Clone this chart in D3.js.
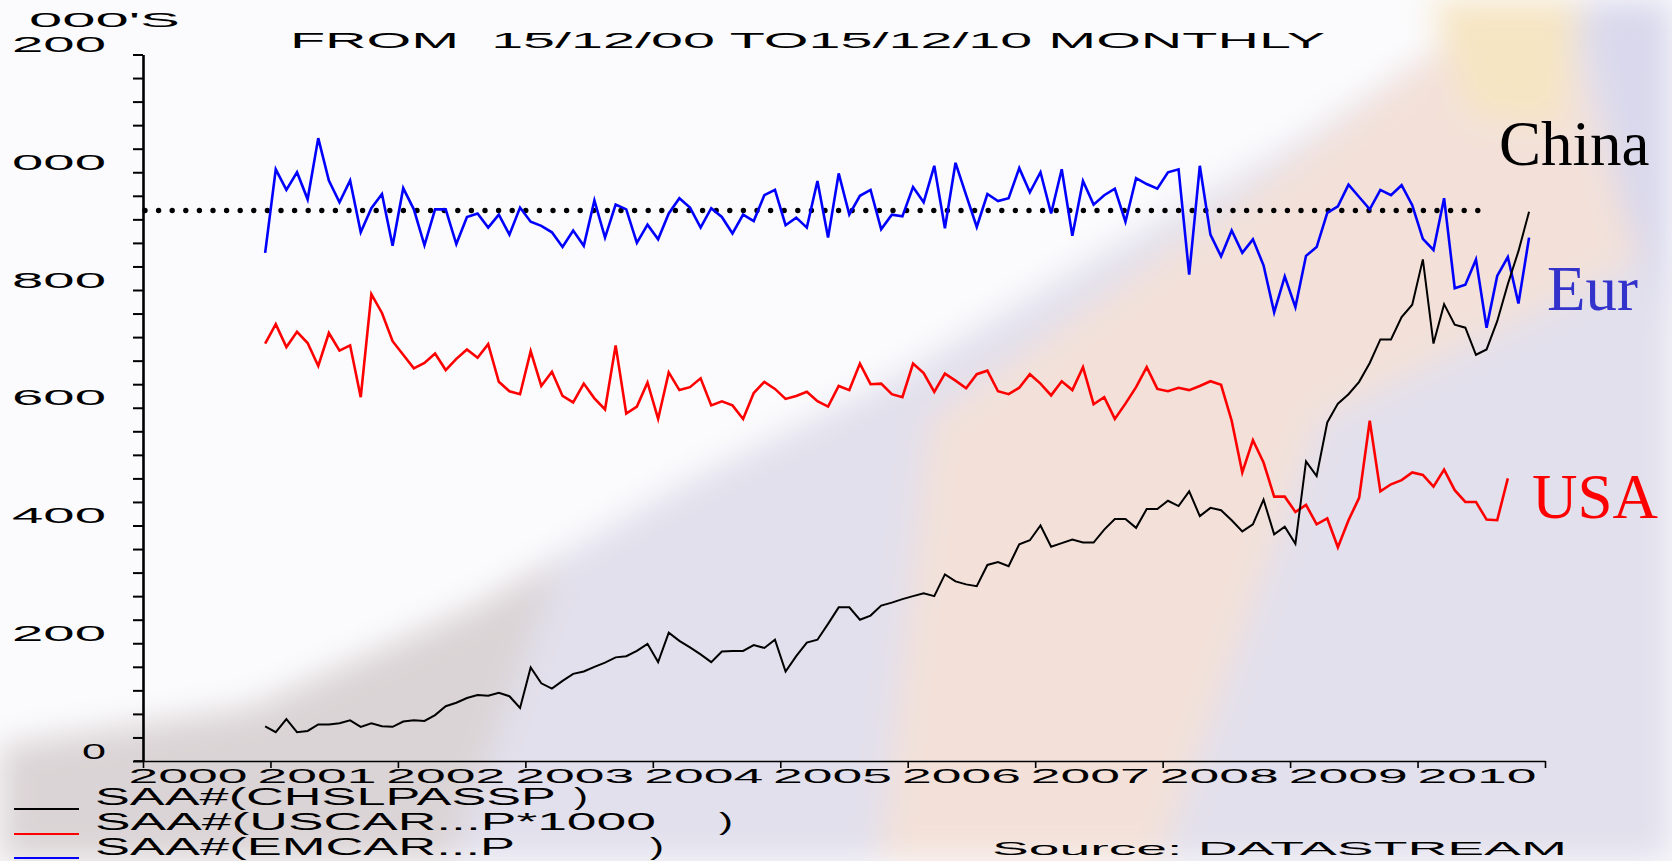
<!DOCTYPE html>
<html>
<head>
<meta charset="utf-8">
<script src="https://cdn.jsdelivr.net/npm/d3@7"></script>
<style>
  html, body { margin: 0; padding: 0; background: #fbfbfd; overflow: hidden; }
  svg { display: block; }
  text { font-family: "Liberation Sans", Arial, sans-serif; fill: #000; white-space: pre; }
  .serif { font-family: "Liberation Serif", "Times New Roman", serif; }
</style>
</head>
<body>
<svg id="chart"></svg>
<script>
// monthly observations, first one is 15/12/00
const firstYear = 2000, firstMonth = 11;

// China passenger car sales (black)
const china = [
  59, 49, 71, 49, 51, 62, 62, 64, 69, 58, 64, 59, 58, 67, 69, 68, 78, 93, 99, 107,
  112, 111, 116, 110, 90, 159, 132, 123, 136, 148, 152, 160, 167, 176, 178, 187, 199, 168, 218, 204,
  193, 181, 168, 186, 187, 187, 197, 192, 206, 152, 178, 201, 206, 233, 261, 261, 240, 247, 264, 269,
  275, 280, 285, 280, 317, 305, 300, 297, 333, 338, 331, 368, 375, 400, 364, 370, 376, 371, 371, 393,
  411, 411, 396, 428, 428, 442, 433, 458, 416, 430, 426, 409, 390, 402, 444, 385, 398, 369, 509, 484,
  575, 607, 623, 644, 676, 716, 716, 754, 775, 852, 709, 776, 741, 736, 690, 699, 747, 810, 866, 933
];

// USA car sales *1000 (red)
const usa = [
  709, 742, 703, 729, 710, 671, 727, 697, 706, 618, 793, 761, 713, 690, 667, 676, 692, 664, 683, 699,
  685, 708, 644, 628, 623, 696, 637, 661, 620, 609, 641, 616, 597, 706, 590, 602, 643, 581, 660, 630,
  635, 650, 604, 611, 604, 581, 625, 644, 632, 615, 620, 627, 611, 602, 637, 630, 675, 640, 641, 623,
  618, 675, 659, 627, 658, 646, 633, 657, 663, 628, 623, 634, 657, 641, 621, 645, 630, 669, 606, 618,
  581, 607, 635, 669, 632, 628, 634, 630, 637, 645, 639, 578, 490, 545, 507, 449, 449, 423, 435, 402,
  412, 363, 409, 447, 578, 458, 470, 477, 490, 486, 466, 495, 460, 440, 440, 410, 409, 480
];

// Europe car sales (blue)
const europe = [
  863, 1005, 970, 1000, 954, 1058, 986, 949, 986, 898, 939, 963, 875, 973, 937, 876, 937, 937, 878, 924,
  930, 906, 928, 894, 940, 916, 909, 898, 873, 901, 875, 952, 889, 945, 937, 880, 911, 886, 930, 956,
  940, 906, 939, 924, 896, 928, 917, 961, 970, 910, 923, 906, 985, 889, 998, 928, 960, 970, 903, 928,
  925, 975, 949, 1011, 905, 1016, 961, 907, 963, 951, 956, 1007, 966, 1000, 930, 1005, 892, 985, 945, 961,
  972, 916, 990, 980, 972, 1000, 1005, 826, 1011, 894, 857, 901, 863, 886, 842, 762, 823, 771, 858, 873,
  931, 942, 979, 958, 937, 970, 961, 978, 944, 887, 868, 956, 803, 809, 852, 736, 824, 856, 777, 889
];

// dotted reference level and its extent in years
const refLevel = 935;
const refSpan = [2000, 2010.5];

const yMinorTicks = d3.range(0, 1201, 40);
const yLabelTicks = [0, 200, 400, 600, 800, 1000, 1200];
const xTickYears = d3.range(2000, 2012);
const xLabelYears = d3.range(2000, 2011);

const seriesNames = ['SAA#(CHSLPASSP', 'SAA#(USCAR...P*1000', 'SAA#(EMCAR...P'];
const seriesColors = ['#000000', '#ff0000', '#0000ff'];
const endLabels = ['China', 'USA', 'Eur'];
const endLabelColors = ['#000000', '#ff0000', '#3333cc'];

const title = 'FROM  15/12/00 TO15/12/10 MONTHLY';
const unitLabel = "000'S";
const sourceNote = 'Source: DATASTREAM';

// faded slide background (decoration)
const bgShapes = [
  { fill: '#e2e0ec', pts: [[0,861],[0,745],[250,707],[470,608],[685,483],[900,375],[1100,255],[1300,140],[1450,40],[1500,0],[1672,0],[1672,861]] },
  { fill: '#f3e1d9', pts: [[1480,0],[1560,0],[1640,260],[1320,420],[1160,861],[880,861],[930,420],[1236,205],[1450,40]] },
  { fill: '#f6e5c3', pts: [[1430,0],[1580,0],[1560,125],[1470,115]] },
  { fill: '#d9d8ec', pts: [[1590,0],[1672,0],[1672,330],[1620,200]] },
  { fill: '#dbd4d6', pts: [[0,861],[0,745],[250,707],[470,608],[560,560],[450,861]] }
];

const width = 1672, height = 861;
const svg = d3.select('#chart').attr('width', width).attr('height', height);

const defs = svg.append('defs');
defs.append('filter').attr('id', 'soft')
  .attr('x', '-20%').attr('y', '-20%').attr('width', '140%').attr('height', '140%')
  .append('feGaussianBlur').attr('stdDeviation', 16);

svg.append('rect').attr('width', width).attr('height', height).attr('fill', '#fbfbfd');
svg.append('g').attr('filter', 'url(#soft)')
  .selectAll('polygon')
  .data(bgShapes)
  .join('polygon')
  .attr('points', d => d.pts.map(p => p.join(',')).join(' '))
  .attr('fill', d => d.fill);

const x = d3.scaleLinear().domain([2000, 2011]).range([143, 1545]);
const y = d3.scaleLinear().domain([0, 1200]).range([761, 54.5]);

const monthPos = i => firstYear + (firstMonth + i + 0.5) / 12;

// y axis with minor ticks
const yAxisG = svg.append('g')
  .attr('transform', `translate(${x(2000)},0)`)
  .call(d3.axisLeft(y).tickValues(yMinorTicks).tickSize(10).tickSizeOuter(0).tickFormat(''));
yAxisG.select('.domain').attr('stroke', '#000').attr('stroke-width', 2.6);
yAxisG.selectAll('.tick line').attr('stroke', '#000').attr('stroke-width', 2);

// y labels (first digit of 1000/1200 cut off as in the original)
const yLabG = svg.append('g')
  .attr('transform', `translate(${x(2000)},0)`)
  .call(d3.axisLeft(y).tickValues(yLabelTicks).tickSize(0).tickPadding(37)
    .tickFormat(d => String(d).slice(-3)));
yLabG.select('.domain').remove();
yLabG.selectAll('text')
  .attr('dy', -3)
  .attr('font-size', 22)
  .attr('font-family', '"Liberation Sans", Arial, sans-serif')
  .attr('fill', '#000')
  .attr('textLength', function () { return 35 * this.textContent.length - 11; })
  .attr('lengthAdjust', 'spacingAndGlyphs');

// x axis, wide labels running into each other like the original print-out
const xAxisG = svg.append('g')
  .attr('transform', `translate(0,${y(0)})`)
  .call(d3.axisBottom(x).tickValues(xTickYears).tickSize(7).tickSizeOuter(0)
    .tickFormat(d => (xLabelYears.includes(d) ? d : '')));
xAxisG.select('.domain').attr('stroke', '#000').attr('stroke-width', 1.6);
xAxisG.selectAll('.tick line').attr('stroke', '#000').attr('stroke-width', 1.6);
xAxisG.selectAll('text')
  .attr('text-anchor', 'start')
  .attr('x', d => -15 + 1.45 * (d - 2000))
  .attr('y', 22)
  .attr('dy', 0)
  .attr('font-size', 21)
  .attr('font-family', '"Liberation Sans", Arial, sans-serif')
  .attr('fill', '#000')
  .attr('textLength', function () { return this.textContent ? 119 : null; })
  .attr('lengthAdjust', 'spacingAndGlyphs');
svg.append('line')
  .attr('x1', 134).attr('x2', x(2000))
  .attr('y1', y(0)).attr('y2', y(0))
  .attr('stroke', '#000').attr('stroke-width', 1.6);

// dotted reference line
svg.append('line')
  .attr('x1', x(refSpan[0]) + 2).attr('x2', x(refSpan[1]))
  .attr('y1', y(refLevel)).attr('y2', y(refLevel))
  .attr('stroke', '#000')
  .attr('stroke-width', 5.4)
  .attr('stroke-linecap', 'round')
  .attr('stroke-dasharray', '0 13.6');

// series
const line = d3.line().x((d, i) => x(monthPos(i))).y(d => y(d));
const series = [
  { values: europe, color: seriesColors[2], w: 2.6 },
  { values: usa, color: seriesColors[1], w: 2.6 },
  { values: china, color: seriesColors[0], w: 2 }
];
svg.append('g')
  .selectAll('path')
  .data(series)
  .join('path')
  .attr('d', d => line(d.values))
  .attr('fill', 'none')
  .attr('stroke', d => d.color)
  .attr('stroke-width', d => d.w)
  .attr('stroke-linejoin', 'miter');

// title and unit
svg.append('text')
  .attr('x', 290).attr('y', 48)
  .attr('font-size', 22)
  .attr('textLength', 1035)
  .attr('lengthAdjust', 'spacingAndGlyphs')
  .text(title);
svg.append('text')
  .attr('x', 29).attr('y', 27)
  .attr('font-size', 21)
  .attr('textLength', 151)
  .attr('lengthAdjust', 'spacingAndGlyphs')
  .text(unitLabel);

// end labels
const endPos = [[1499, 165], [1532, 518], [1547, 310]];
svg.append('g')
  .selectAll('text')
  .data(endLabels)
  .join('text')
  .attr('class', 'serif')
  .attr('x', (d, i) => endPos[i][0])
  .attr('y', (d, i) => endPos[i][1])
  .attr('font-size', 63)
  .style('fill', (d, i) => endLabelColors[i])
  .text(d => d);

// legend
const legendRows = [
  { name: seriesNames[0], color: seriesColors[0], textW: 461, paren: 574, base: 805, lineY: 809 },
  { name: seriesNames[1], color: seriesColors[1], textW: 561, paren: 719, base: 830, lineY: 834 },
  { name: seriesNames[2], color: seriesColors[2], textW: 420, paren: 650, base: 855, lineY: 858 }
];
const leg = svg.append('g').selectAll('g').data(legendRows).join('g');
leg.append('line')
  .attr('x1', 14).attr('x2', 79)
  .attr('y1', d => d.lineY).attr('y2', d => d.lineY)
  .attr('stroke', d => d.color).attr('stroke-width', 2);
leg.append('text')
  .attr('x', 95).attr('y', d => d.base)
  .attr('font-size', 23)
  .attr('textLength', d => d.textW)
  .attr('lengthAdjust', 'spacingAndGlyphs')
  .text(d => d.name);
leg.append('text')
  .attr('x', d => d.paren).attr('y', d => d.base)
  .attr('font-size', 23)
  .attr('textLength', 14)
  .attr('lengthAdjust', 'spacingAndGlyphs')
  .text(')');

// source (sits on the bottom edge)
svg.append('text')
  .attr('x', 992).attr('y', 855)
  .attr('font-size', 19)
  .attr('textLength', 575)
  .attr('lengthAdjust', 'spacingAndGlyphs')
  .text(sourceNote);
</script>
</body>
</html>
